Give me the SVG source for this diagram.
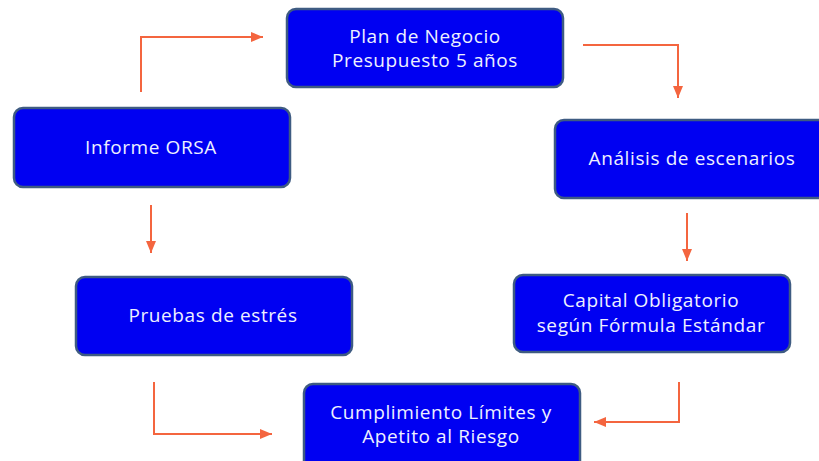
<svg xmlns="http://www.w3.org/2000/svg" width="819" height="461" viewBox="0 0 819 461">
<defs>
<marker id="ah" viewBox="0 0 12 10" refX="12" refY="5" markerWidth="12" markerHeight="10" markerUnits="userSpaceOnUse" orient="auto">
<path d="M0,0 L12,5 L0,10 Z" fill="#f4653f"/>
</marker>
</defs>
<style>
.box{fill:#0000f2;stroke:#3e5b82;stroke-width:2.5}
.t{font-family:"Open Sans","Noto Sans",sans-serif;font-size:19px;letter-spacing:0.6px;fill:#eef0ff;text-anchor:middle}
.c{fill:none;stroke:#f4653f;stroke-width:2;marker-end:url(#ah)}
</style>
<rect width="819" height="461" fill="#ffffff"/>
<g id="connectors">
<path class="c" d="M141,92 V37 H263"/>
<path class="c" d="M583,45 H678 V98"/>
<path class="c" d="M687,213 V261"/>
<path class="c" d="M151,205 V253"/>
<path class="c" d="M154,382 V434 H272"/>
<path class="c" d="M679,382 V422 H594"/>
</g>
<g id="plan">
<rect class="box" x="287" y="9" width="276" height="78" rx="9"/>
<text class="t" x="425" y="43">Plan de Negocio</text>
<text class="t" x="425" y="67">Presupuesto 5 años</text>
</g>
<g id="orsa">
<rect class="box" x="14" y="108" width="276" height="79" rx="9"/>
<text class="t" x="151" y="154">Informe ORSA</text>
</g>
<g id="analisis">
<rect class="box" x="555" y="120" width="276" height="78" rx="9"/>
<text class="t" x="692" y="165">Análisis de escenarios</text>
</g>
<g id="pruebas">
<rect class="box" x="76" y="277" width="276" height="78" rx="9"/>
<text class="t" x="213" y="322">Pruebas de estrés</text>
</g>
<g id="capital">
<rect class="box" x="514" y="275" width="276" height="77" rx="9"/>
<text class="t" x="651" y="307">Capital Obligatorio</text>
<text class="t" x="651" y="332">según Fórmula Estándar</text>
</g>
<g id="cumplimiento">
<rect class="box" x="304" y="384" width="276" height="86" rx="9"/>
<text class="t" x="441" y="419">Cumplimiento Límites y</text>
<text class="t" x="441" y="443">Apetito al Riesgo</text>
</g>
</svg>
